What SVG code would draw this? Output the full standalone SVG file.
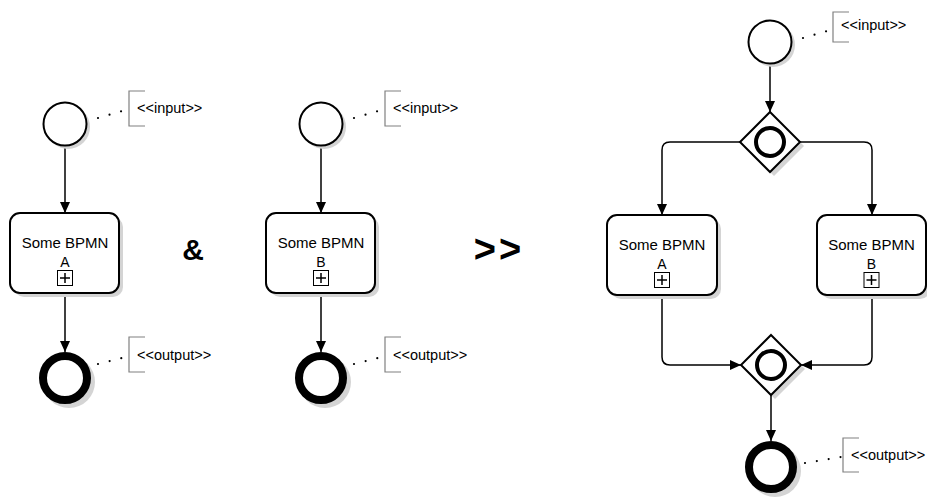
<svg xmlns="http://www.w3.org/2000/svg" width="927" height="497" viewBox="0 0 927 497">
<style>
.bg{fill:#ffffff}
.shadow{fill:#d4d4d4;stroke:none}
.start{fill:#ffffff;stroke:#000;stroke-width:2}
.end{fill:#ffffff;stroke:#000;stroke-width:8}
.task{fill:#ffffff;stroke:#000;stroke-width:2}
.gw{fill:#ffffff;stroke:#000;stroke-width:2}
.gwin{fill:none;stroke:#000;stroke-width:4}
.flow{fill:none;stroke:#000;stroke-width:1.5}
.dots{fill:none;stroke:#000;stroke-width:2.2;stroke-linecap:round;stroke-dasharray:0 12}
.bracket{fill:none;stroke:#808080;stroke-width:1.2}
.lbl{font-family:"Liberation Sans",Arial,sans-serif;font-size:14.5px;fill:#000}
.tl{font-family:"Liberation Sans",Arial,sans-serif;font-size:15px;fill:#000;text-anchor:middle}
.mk{fill:#fff;stroke:#000;stroke-width:1}
.op{font-family:"Liberation Sans",Arial,sans-serif;font-weight:bold;fill:#000;text-anchor:middle}
</style>
<defs>
<marker id="arr" markerUnits="userSpaceOnUse" markerWidth="11" markerHeight="10" refX="11" refY="5" orient="auto">
<path d="M0,0 L11,5 L0,10 z" fill="#000"/>
</marker>
</defs>
<rect class="bg" x="0" y="0" width="927" height="497"/>

<g id="connectors">
<path class="flow" d="M65,146 V213" marker-end="url(#arr)"/>
<path class="flow" d="M65,293 V352" marker-end="url(#arr)"/>
<path class="flow" d="M321,146 V213" marker-end="url(#arr)"/>
<path class="flow" d="M321,293 V352" marker-end="url(#arr)"/>
<path class="flow" d="M770,64 V112" marker-end="url(#arr)"/>
<path class="flow" d="M740,142 H670 Q662,142 662,150 V215" marker-end="url(#arr)"/>
<path class="flow" d="M800,142 H864 Q872,142 872,150 V215" marker-end="url(#arr)"/>
<path class="flow" d="M662,295 V357 Q662,365 670,365 H741" marker-end="url(#arr)"/>
<path class="flow" d="M872,295 V357 Q872,365 864,365 H801" marker-end="url(#arr)"/>
<path class="flow" d="M771,395 V441" marker-end="url(#arr)"/>
<path class="dots" d="M98,118 L122,111"/>
<path class="dots" d="M98,364 L122,358"/>
<path class="dots" d="M354,118 L378,111"/>
<path class="dots" d="M354,364 L378,358"/>
<path class="dots" d="M803,38 L827,31"/>
<path class="dots" d="M805,463 L841,457"/>
</g>

<g id="startA">
<circle class="shadow" cx="68" cy="127" r="22"/>
<circle class="start" cx="65" cy="124" r="21.5"/>
</g>
<g id="inputA">
<path class="bracket" d="M145,91 H129 V126 H145"/>
<text class="lbl" x="137" y="113">&lt;&lt;input&gt;&gt;</text>
</g>
<g id="taskA">
<rect class="shadow" x="14" y="217" width="109" height="80" rx="10"/>
<rect class="task" x="10" y="213" width="109" height="80" rx="10"/>
<text class="tl" x="65" y="248">Some BPMN</text>
<text class="tl" x="65" y="267" style="font-size:14px">A</text>
<rect class="mk" x="57.5" y="270.5" width="15" height="15"/>
<path d="M60,278 H70 M65,273 V283" stroke="#000" stroke-width="1.5"/>
</g>
<g id="endA">
<circle class="shadow" cx="69" cy="382" r="26"/>
<circle class="end" cx="65" cy="378" r="22"/>
</g>
<g id="outputA">
<path class="bracket" d="M145,337 H129 V372 H145"/>
<text class="lbl" x="137" y="360">&lt;&lt;output&gt;&gt;</text>
</g>

<g id="and">
<text class="op" x="193" y="260" style="font-size:30px">&amp;</text>
</g>

<g id="startB">
<circle class="shadow" cx="324" cy="127" r="22"/>
<circle class="start" cx="321" cy="124" r="21.5"/>
</g>
<g id="inputB">
<path class="bracket" d="M401,91 H385 V126 H401"/>
<text class="lbl" x="393" y="113">&lt;&lt;input&gt;&gt;</text>
</g>
<g id="taskB">
<rect class="shadow" x="270" y="217" width="109" height="80" rx="10"/>
<rect class="task" x="266" y="213" width="109" height="80" rx="10"/>
<text class="tl" x="321" y="248">Some BPMN</text>
<text class="tl" x="321" y="267" style="font-size:14px">B</text>
<rect class="mk" x="313.5" y="270.5" width="15" height="15"/>
<path d="M316,278 H326 M321,273 V283" stroke="#000" stroke-width="1.5"/>
</g>
<g id="endB">
<circle class="shadow" cx="325" cy="382" r="26"/>
<circle class="end" cx="321" cy="378" r="22"/>
</g>
<g id="outputB">
<path class="bracket" d="M401,337 H385 V372 H401"/>
<text class="lbl" x="393" y="360">&lt;&lt;output&gt;&gt;</text>
</g>

<g id="then">
<text class="op" x="499" y="262" style="font-size:38px;letter-spacing:3px">&gt;&gt;</text>
</g>

<g id="startC">
<circle class="shadow" cx="773" cy="45" r="22"/>
<circle class="start" cx="770" cy="42" r="21.5"/>
</g>
<g id="inputC">
<path class="bracket" d="M849,12 H833 V42 H849"/>
<text class="lbl" x="841" y="30">&lt;&lt;input&gt;&gt;</text>
</g>
<g id="split">
<path class="shadow" d="M774,116 L804,146 L774,176 L744,146 z"/>
<path class="gw" d="M770,112 L800,142 L770,172 L740,142 z"/>
<circle class="gwin" cx="770" cy="142" r="14"/>
</g>
<g id="taskC1">
<rect class="shadow" x="611" y="219" width="110" height="80" rx="10"/>
<rect class="task" x="607" y="215" width="110" height="80" rx="10"/>
<text class="tl" x="662" y="250">Some BPMN</text>
<text class="tl" x="662" y="269" style="font-size:14px">A</text>
<rect class="mk" x="654.5" y="272.5" width="15" height="15"/>
<path d="M657,280 H667 M662,275 V285" stroke="#000" stroke-width="1.5"/>
</g>
<g id="taskC2">
<rect class="shadow" x="821" y="219" width="109" height="80" rx="10"/>
<rect class="task" x="817" y="215" width="109" height="80" rx="10"/>
<text class="tl" x="871.5" y="250">Some BPMN</text>
<text class="tl" x="871.5" y="269" style="font-size:14px">B</text>
<rect class="mk" x="864" y="272.5" width="15" height="15"/>
<path d="M866.5,280 H876.5 M871.5,275 V285" stroke="#000" stroke-width="1.5"/>
</g>
<g id="join">
<path class="shadow" d="M775,339 L805,369 L775,399 L745,369 z"/>
<path class="gw" d="M771,335 L801,365 L771,395 L741,365 z"/>
<circle class="gwin" cx="771" cy="365" r="14"/>
</g>
<g id="endC">
<circle class="shadow" cx="775" cy="471" r="26"/>
<circle class="end" cx="771" cy="467" r="22"/>
</g>
<g id="outputC">
<path class="bracket" d="M859,438 H843 V472 H859"/>
<text class="lbl" x="851" y="460">&lt;&lt;output&gt;&gt;</text>
</g>
</svg>
